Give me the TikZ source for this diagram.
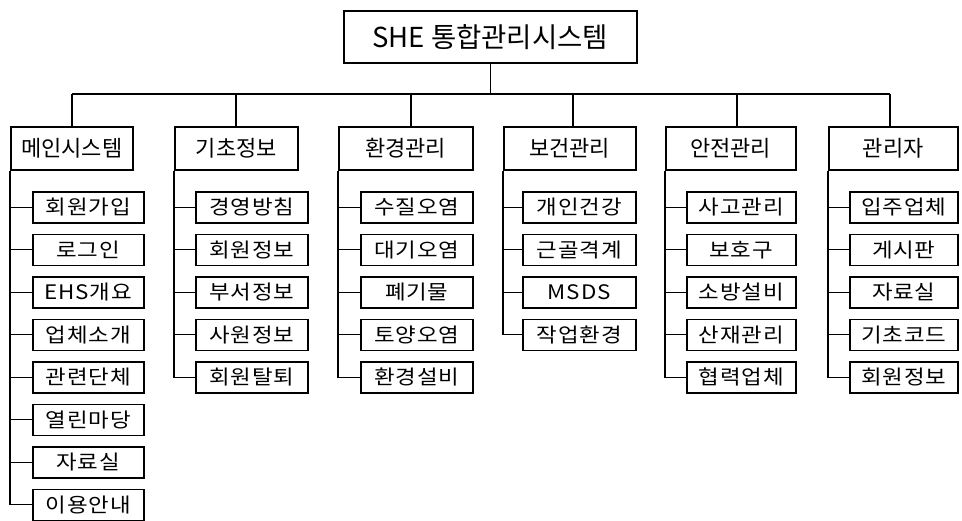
\documentclass[tikz,border=0pt]{standalone}
\usepackage{fontspec}
\setmainfont{Noto Sans CJK KR}
\begin{document}
\begin{tikzpicture}[x=1pt,y=-1pt,
  box/.style={draw, line width=1.5pt, inner sep=0pt, anchor=north west},
  topbox/.style={box, minimum width=293, minimum height=52, font=\fontsize{27.5}{27.5}\selectfont},
  catbox/.style={box, minimum height=43, font=\fontsize{22}{22}\selectfont},
  itembox/.style={box, minimum height=31, font=\fontsize{20}{20}\selectfont\addfontfeatures{FakeStretch=1.12,LetterSpace=4}},
  link/.style={line width=1.3pt}]
\useasboundingbox (0,0) rectangle (962,520);

\node[topbox] (top) at (343,10) {SHE 통합관리시스템};

\node[catbox, minimum width=122] (c1) at (10,126) {메인시스템};
\node[catbox, minimum width=123] (c2) at (174,126) {기초정보};
\node[catbox, minimum width=134] (c3) at (338,126) {환경관리};
\node[catbox, minimum width=132] (c4) at (503,126) {보건관리};
\node[catbox, minimum width=130] (c5) at (665,126) {안전관리};
\node[catbox, minimum width=129] (c6) at (828,126) {관리자};

\coordinate (d1) at (72,94);
\coordinate (d2) at (236,94);
\coordinate (d3) at (411,94);
\coordinate (d4) at (573,94);
\coordinate (d5) at (737,94);
\coordinate (d6) at (890,94);

\draw[link] (top.south) -- (top.south |- d1);
\draw[link] (d1) -- (d6);
\foreach \i in {1,...,6} \draw[link] (d\i) -- (d\i |- c\i.north);

% children
\foreach \t [count=\k] in {회원가입,로그인,EHS개요,업체소개,관련단체,열린마당,자료실,이용안내}
  \node[itembox, minimum width=111] (a\k) at (32,{191+42.5*(\k-1)}) {\t};
\foreach \t [count=\k] in {경영방침,회원정보,부서정보,사원정보,회원탈퇴}
  \node[itembox, minimum width=112] (b\k) at (195,{191+42.5*(\k-1)}) {\t};
\foreach \t [count=\k] in {수질오염,대기오염,폐기물,토양오염,환경설비}
  \node[itembox, minimum width=112] (e\k) at (360,{191+42.5*(\k-1)}) {\t};
\foreach \t [count=\k] in {개인건강,근골격계,MSDS,작업환경}
  \node[itembox, minimum width=113] (h\k) at (522,{191+42.5*(\k-1)}) {\t};
\foreach \t [count=\k] in {사고관리,보호구,소방설비,산재관리,협력업체}
  \node[itembox, minimum width=109] (s\k) at (686,{191+42.5*(\k-1)}) {\t};
\foreach \t [count=\k] in {입주업체,게시판,자료실,기초코드,회원정보}
  \node[itembox, minimum width=108] (m\k) at (849,{191+42.5*(\k-1)}) {\t};

% spines
\draw[link] (c1.south west) |- (a8.west);
\draw[link] (c2.south west) |- (b5.west);
\draw[link] (c3.south west) |- (e5.west);
\draw[link] (c4.south west) |- (h4.west);
\draw[link] (c5.south west) |- (s5.west);
\draw[link] (c6.south west) |- (m5.west);
\foreach \k in {1,...,7} \draw[link] (a\k.west) -- (a\k.west -| c1.south west);
\foreach \k in {1,...,4} {
  \draw[link] (b\k.west) -- (b\k.west -| c2.south west);
  \draw[link] (e\k.west) -- (e\k.west -| c3.south west);
  \draw[link] (s\k.west) -- (s\k.west -| c5.south west);
  \draw[link] (m\k.west) -- (m\k.west -| c6.south west);
}
\foreach \k in {1,...,3} \draw[link] (h\k.west) -- (h\k.west -| c4.south west);
\end{tikzpicture}
\end{document}
